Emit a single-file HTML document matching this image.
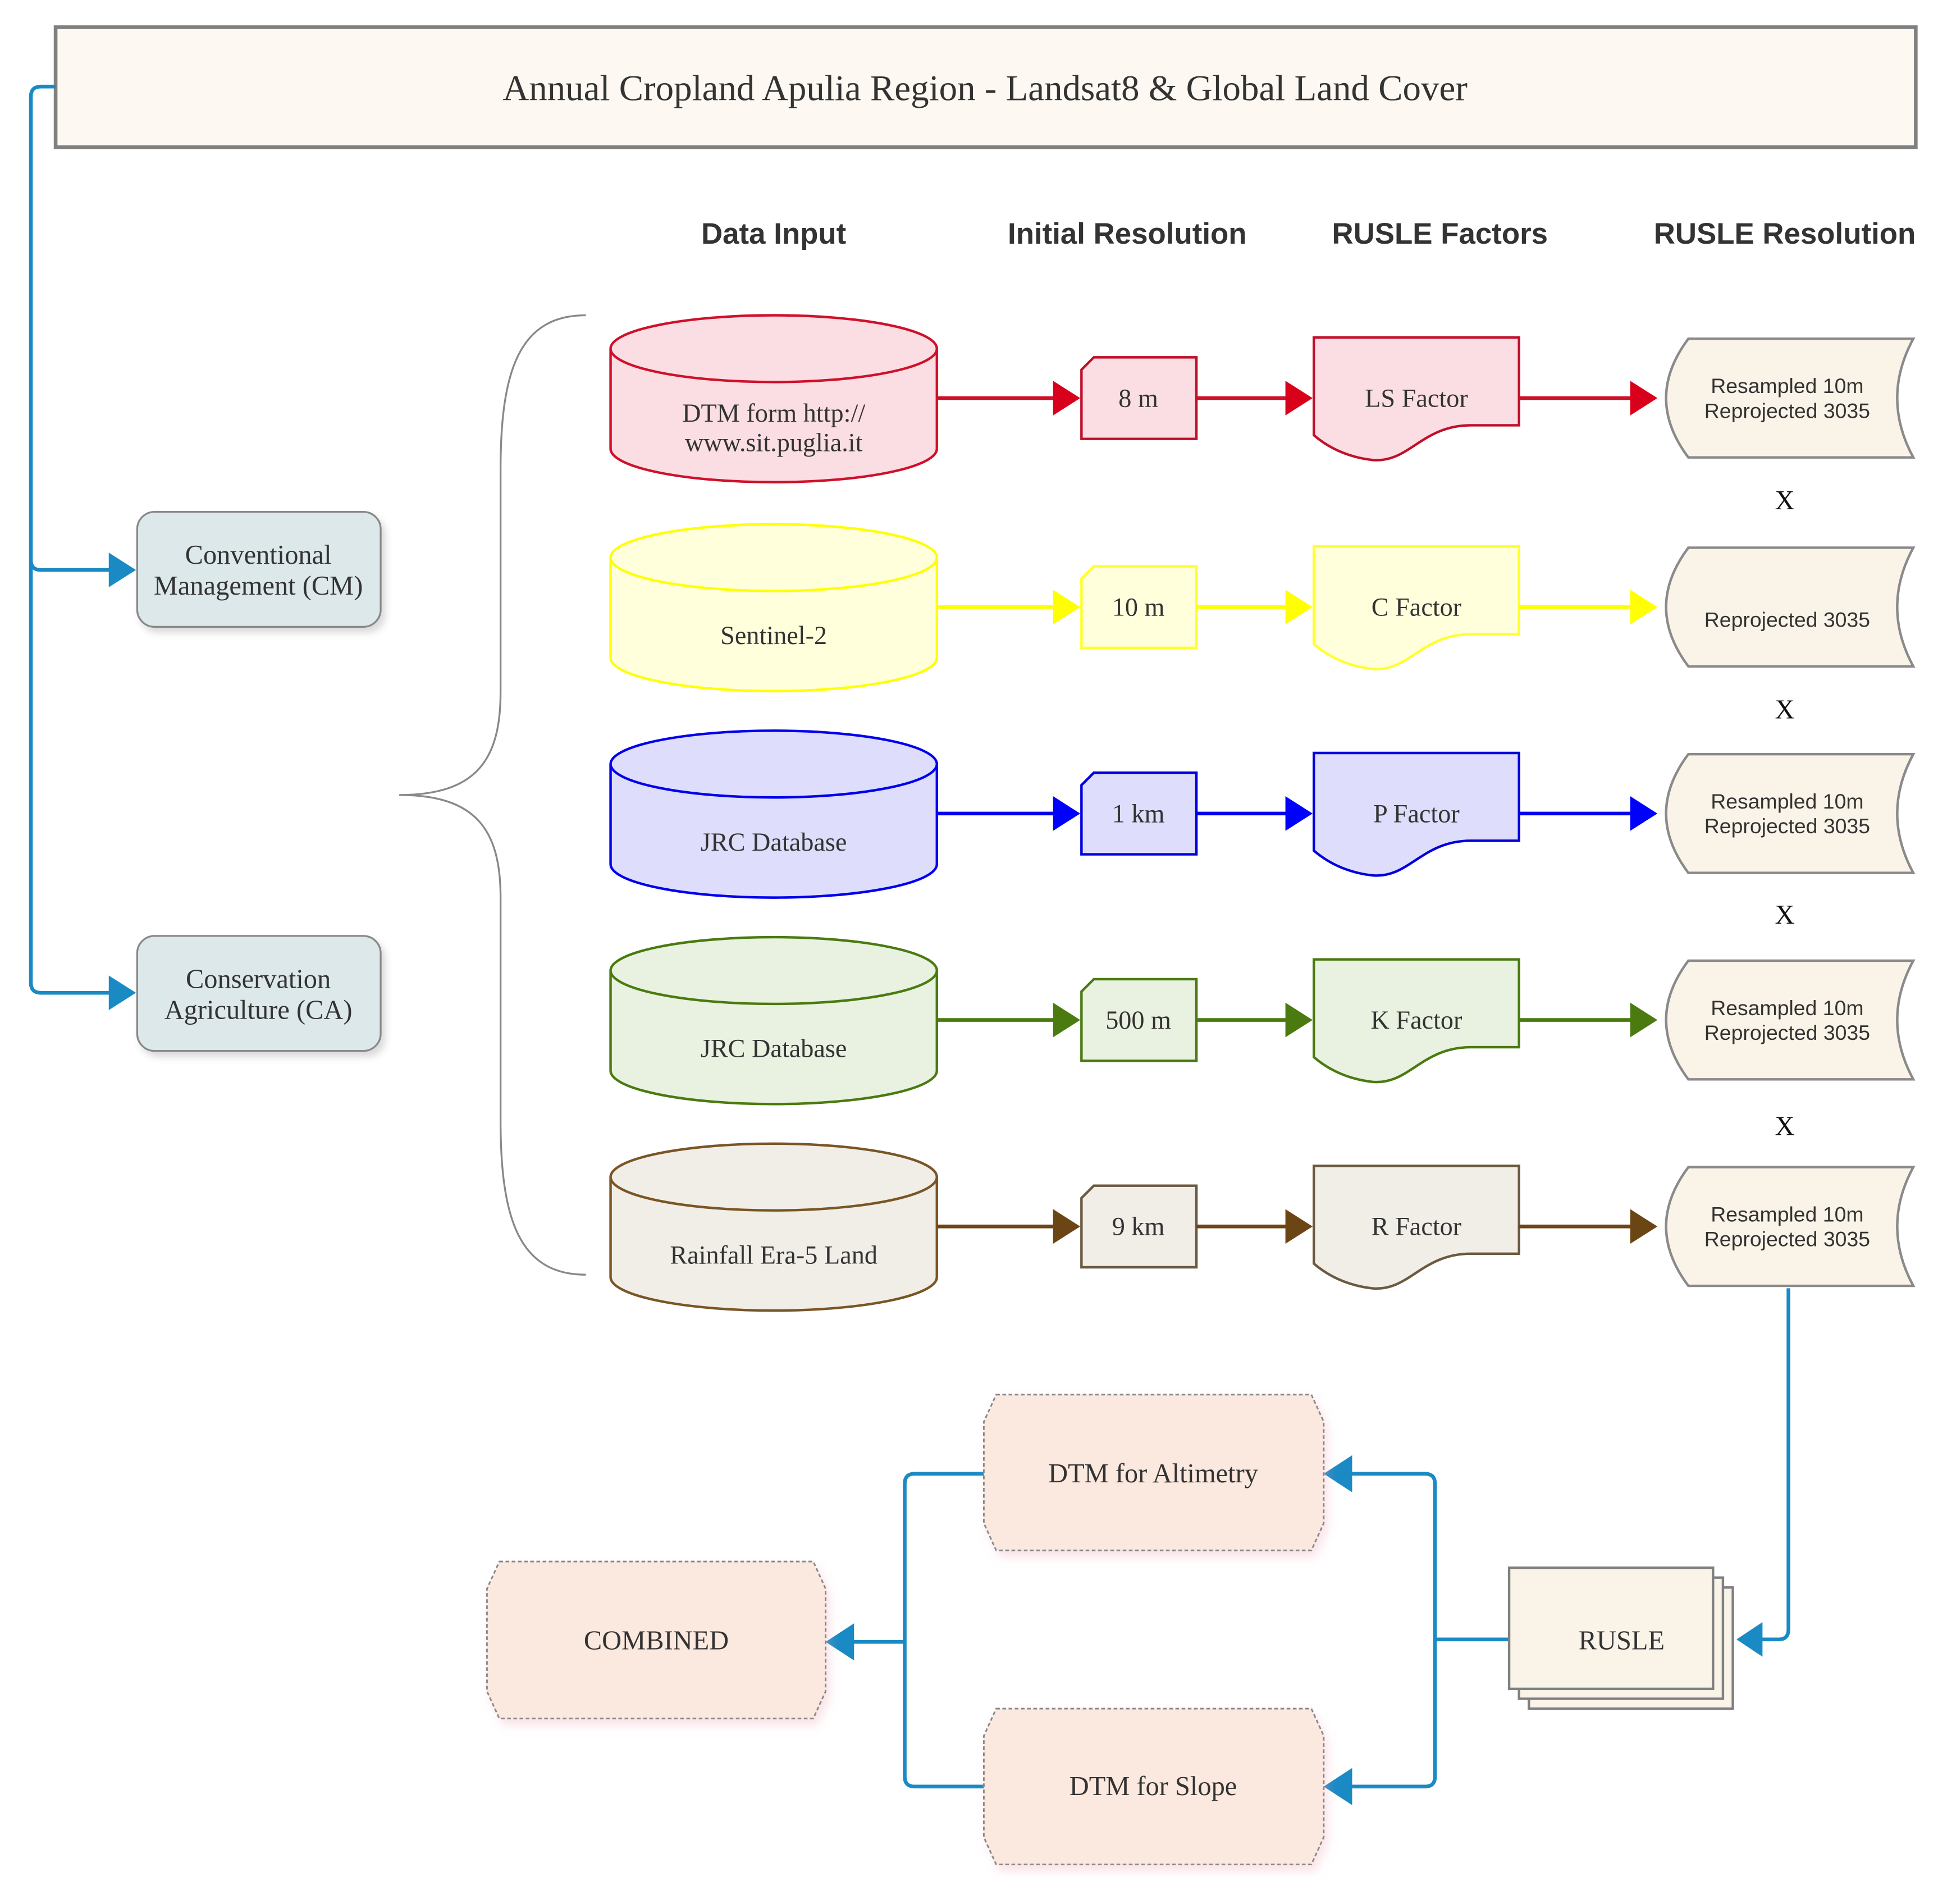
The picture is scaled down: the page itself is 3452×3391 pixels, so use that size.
<!DOCTYPE html>
<html><head><meta charset="utf-8"><style>
html,body{margin:0;padding:0;background:#fff;}
svg{display:block;}
.serif{font-family:"Liberation Serif",serif;fill:#333;}
.sans{font-family:"Liberation Sans",sans-serif;fill:#333;}
</style></head><body>
<svg width="3452" height="3391" viewBox="0 0 1568 1540" preserveAspectRatio="none" xmlns="http://www.w3.org/2000/svg">
<defs>
<filter id="sh" x="-10%" y="-10%" width="130%" height="130%"><feDropShadow dx="3" dy="4" stdDeviation="3" flood-color="#000" flood-opacity="0.15"/></filter>
<filter id="shp" x="-10%" y="-10%" width="130%" height="130%"><feDropShadow dx="3" dy="5" stdDeviation="4" flood-color="#f0a0b0" flood-opacity="0.3"/></filter>
</defs>
<rect width="1568" height="1540" fill="#fff"/>

<rect x="45" y="22" width="1505" height="97" fill="#fdf9f2" stroke="#808080" stroke-width="3"/>
<text x="797" y="81" text-anchor="middle" class="serif" font-size="29.5">Annual Cropland Apulia Region - Landsat8 &amp; Global Land Cover</text>

<g class="sans" font-size="24" font-weight="bold" text-anchor="middle">
<text x="626" y="197">Data Input</text>
<text x="912" y="197">Initial Resolution</text>
<text x="1165" y="197">RUSLE Factors</text>
<text x="1444" y="197">RUSLE Resolution</text>
</g>

<path d="M45,70 H33 Q25,70 25,78 V795 Q25,803 33,803 H90 M25,453 Q25,461 33,461 H90" fill="none" stroke="#1a8ac4" stroke-width="3"/>
<polygon points="88,447 110,461 88,475" fill="#1a8ac4"/>
<polygon points="88,789 110,803 88,817" fill="#1a8ac4"/>
<rect x="111" y="414" width="197" height="93" rx="14" fill="#dde8ea" stroke="#888" stroke-width="1.5" filter="url(#sh)"/>
<text x="209" y="456" text-anchor="middle" class="serif" font-size="22">Conventional</text>
<text x="209" y="481" text-anchor="middle" class="serif" font-size="22">Management (CM)</text>
<rect x="111" y="757" width="197" height="93" rx="14" fill="#dde8ea" stroke="#888" stroke-width="1.5" filter="url(#sh)"/>
<text x="209" y="799" text-anchor="middle" class="serif" font-size="22">Conservation</text>
<text x="209" y="824" text-anchor="middle" class="serif" font-size="22">Agriculture (CA)</text>

<path d="M474,255 C420,255 405,300 405,380 V560 C405,615 385,643 323,643 C385,643 405,671 405,726 V906 C405,986 420,1031 474,1031" fill="none" stroke="#888" stroke-width="1.5"/>

<g>
<path d="M494,282 V363 A132,27 0 0 0 758,363 V282" fill="#fadee4" stroke="#d0102a" stroke-width="2"/>
<ellipse cx="626" cy="282" rx="132" ry="27" fill="#fadee4" stroke="#d0102a" stroke-width="2"/>
<text x="626" y="341" text-anchor="middle" class="serif" font-size="21">DTM form http://</text>
<text x="626" y="365" text-anchor="middle" class="serif" font-size="21">www.sit.puglia.it</text>
<line x1="758" y1="322" x2="855" y2="322" stroke="#cc1028" stroke-width="3"/>
<polygon points="852,308 874,322 852,336" fill="#d9001b"/>
<path d="M885,289 H968 V355 H875 V299 Z" fill="#fadee4" stroke="#c0102a" stroke-width="2"/>
<text x="921" y="329" text-anchor="middle" class="serif" font-size="21">8 m</text>
<line x1="968" y1="322" x2="1043" y2="322" stroke="#cc1028" stroke-width="3"/>
<polygon points="1040,308 1062,322 1040,336" fill="#d9001b"/>
<path d="M1063,273 H1229 V344 H1190 C1150,344 1140,375 1110,372 C1085,369 1070,358 1063,352 Z" fill="#fadee4" stroke="#c0102a" stroke-width="2"/>
<text x="1146" y="329" text-anchor="middle" class="serif" font-size="21">LS Factor</text>
<line x1="1229" y1="322" x2="1322" y2="322" stroke="#cc1028" stroke-width="3"/>
<polygon points="1319,308 1341,322 1319,336" fill="#d9001b"/>
<path d="M1366,274 H1548 Q1522,322 1548,370 H1366 Q1330,322 1366,274 Z" fill="#faf3e8" stroke="#8a8a8a" stroke-width="2"/>
<text x="1446" y="318" text-anchor="middle" class="sans" font-size="17">Resampled 10m</text>
<text x="1446" y="338" text-anchor="middle" class="sans" font-size="17">Reprojected 3035</text>
</g>

<g>
<path d="M494,451 V532 A132,27 0 0 0 758,532 V451" fill="#ffffdc" stroke="#ffff00" stroke-width="2"/>
<ellipse cx="626" cy="451" rx="132" ry="27" fill="#ffffdc" stroke="#ffff00" stroke-width="2"/>
<text x="626" y="521" text-anchor="middle" class="serif" font-size="21">Sentinel-2</text>
<line x1="758" y1="491" x2="855" y2="491" stroke="#ffff00" stroke-width="3"/>
<polygon points="852,477 874,491 852,505" fill="#ffff00"/>
<path d="M885,458 H968 V524 H875 V468 Z" fill="#ffffdc" stroke="#ffff30" stroke-width="2"/>
<text x="921" y="498" text-anchor="middle" class="serif" font-size="21">10 m</text>
<line x1="968" y1="491" x2="1043" y2="491" stroke="#ffff00" stroke-width="3"/>
<polygon points="1040,477 1062,491 1040,505" fill="#ffff00"/>
<path d="M1063,442 H1229 V513 H1190 C1150,513 1140,544 1110,541 C1085,538 1070,527 1063,521 Z" fill="#ffffdc" stroke="#ffff30" stroke-width="2"/>
<text x="1146" y="498" text-anchor="middle" class="serif" font-size="21">C Factor</text>
<line x1="1229" y1="491" x2="1322" y2="491" stroke="#ffff00" stroke-width="3"/>
<polygon points="1319,477 1341,491 1319,505" fill="#ffff00"/>
<path d="M1366,443 H1548 Q1522,491 1548,539 H1366 Q1330,491 1366,443 Z" fill="#faf3e8" stroke="#8a8a8a" stroke-width="2"/>
<text x="1446" y="507" text-anchor="middle" class="sans" font-size="17">Reprojected 3035</text>
</g>

<g>
<path d="M494,618 V699 A132,27 0 0 0 758,699 V618" fill="#dedefc" stroke="#0000ee" stroke-width="2"/>
<ellipse cx="626" cy="618" rx="132" ry="27" fill="#dedefc" stroke="#0000ee" stroke-width="2"/>
<text x="626" y="688" text-anchor="middle" class="serif" font-size="21">JRC Database</text>
<line x1="758" y1="658" x2="855" y2="658" stroke="#0000ee" stroke-width="3"/>
<polygon points="852,644 874,658 852,672" fill="#0000ff"/>
<path d="M885,625 H968 V691 H875 V635 Z" fill="#dedefc" stroke="#0000dd" stroke-width="2"/>
<text x="921" y="665" text-anchor="middle" class="serif" font-size="21">1 km</text>
<line x1="968" y1="658" x2="1043" y2="658" stroke="#0000ee" stroke-width="3"/>
<polygon points="1040,644 1062,658 1040,672" fill="#0000ff"/>
<path d="M1063,609 H1229 V680 H1190 C1150,680 1140,711 1110,708 C1085,705 1070,694 1063,688 Z" fill="#dedefc" stroke="#0000dd" stroke-width="2"/>
<text x="1146" y="665" text-anchor="middle" class="serif" font-size="21">P Factor</text>
<line x1="1229" y1="658" x2="1322" y2="658" stroke="#0000ee" stroke-width="3"/>
<polygon points="1319,644 1341,658 1319,672" fill="#0000ff"/>
<path d="M1366,610 H1548 Q1522,658 1548,706 H1366 Q1330,658 1366,610 Z" fill="#faf3e8" stroke="#8a8a8a" stroke-width="2"/>
<text x="1446" y="654" text-anchor="middle" class="sans" font-size="17">Resampled 10m</text>
<text x="1446" y="674" text-anchor="middle" class="sans" font-size="17">Reprojected 3035</text>
</g>

<g>
<path d="M494,785 V866 A132,27 0 0 0 758,866 V785" fill="#e9f1e0" stroke="#4a7a10" stroke-width="2"/>
<ellipse cx="626" cy="785" rx="132" ry="27" fill="#e9f1e0" stroke="#4a7a10" stroke-width="2"/>
<text x="626" y="855" text-anchor="middle" class="serif" font-size="21">JRC Database</text>
<line x1="758" y1="825" x2="855" y2="825" stroke="#4a7a10" stroke-width="3"/>
<polygon points="852,811 874,825 852,839" fill="#4a7a10"/>
<path d="M885,792 H968 V858 H875 V802 Z" fill="#e9f1e0" stroke="#4a7a10" stroke-width="2"/>
<text x="921" y="832" text-anchor="middle" class="serif" font-size="21">500 m</text>
<line x1="968" y1="825" x2="1043" y2="825" stroke="#4a7a10" stroke-width="3"/>
<polygon points="1040,811 1062,825 1040,839" fill="#4a7a10"/>
<path d="M1063,776 H1229 V847 H1190 C1150,847 1140,878 1110,875 C1085,872 1070,861 1063,855 Z" fill="#e9f1e0" stroke="#4a7a10" stroke-width="2"/>
<text x="1146" y="832" text-anchor="middle" class="serif" font-size="21">K Factor</text>
<line x1="1229" y1="825" x2="1322" y2="825" stroke="#4a7a10" stroke-width="3"/>
<polygon points="1319,811 1341,825 1319,839" fill="#4a7a10"/>
<path d="M1366,777 H1548 Q1522,825 1548,873 H1366 Q1330,825 1366,777 Z" fill="#faf3e8" stroke="#8a8a8a" stroke-width="2"/>
<text x="1446" y="821" text-anchor="middle" class="sans" font-size="17">Resampled 10m</text>
<text x="1446" y="841" text-anchor="middle" class="sans" font-size="17">Reprojected 3035</text>
</g>

<g>
<path d="M494,952 V1033 A132,27 0 0 0 758,1033 V952" fill="#f1eee8" stroke="#7a5525" stroke-width="2"/>
<ellipse cx="626" cy="952" rx="132" ry="27" fill="#f1eee8" stroke="#7a5525" stroke-width="2"/>
<text x="626" y="1022" text-anchor="middle" class="serif" font-size="21">Rainfall Era-5 Land</text>
<line x1="758" y1="992" x2="855" y2="992" stroke="#6b4614" stroke-width="3"/>
<polygon points="852,978 874,992 852,1006" fill="#6b4614"/>
<path d="M885,959 H968 V1025 H875 V969 Z" fill="#f1eee8" stroke="#6b5a40" stroke-width="2"/>
<text x="921" y="999" text-anchor="middle" class="serif" font-size="21">9 km</text>
<line x1="968" y1="992" x2="1043" y2="992" stroke="#6b4614" stroke-width="3"/>
<polygon points="1040,978 1062,992 1040,1006" fill="#6b4614"/>
<path d="M1063,943 H1229 V1014 H1190 C1150,1014 1140,1045 1110,1042 C1085,1039 1070,1028 1063,1022 Z" fill="#f1eee8" stroke="#6b5a40" stroke-width="2"/>
<text x="1146" y="999" text-anchor="middle" class="serif" font-size="21">R Factor</text>
<line x1="1229" y1="992" x2="1322" y2="992" stroke="#6b4614" stroke-width="3"/>
<polygon points="1319,978 1341,992 1319,1006" fill="#6b4614"/>
<path d="M1366,944 H1548 Q1522,992 1548,1040 H1366 Q1330,992 1366,944 Z" fill="#faf3e8" stroke="#8a8a8a" stroke-width="2"/>
<text x="1446" y="988" text-anchor="middle" class="sans" font-size="17">Resampled 10m</text>
<text x="1446" y="1008" text-anchor="middle" class="sans" font-size="17">Reprojected 3035</text>
</g>

<g class="serif" font-size="22" text-anchor="middle" style="fill:#111">
<text x="1444" y="412">X</text>
<text x="1444" y="581">X</text>
<text x="1444" y="747">X</text>
<text x="1444" y="918">X</text>
</g>

<g fill="none" stroke="#1a8ac4" stroke-width="3">
<path d="M1447,1042 V1318 Q1447,1326 1439,1326 H1420"/>
<path d="M1221,1326 H1161 M1090,1192 H1153 Q1161,1192 1161,1200 V1437 Q1161,1445 1153,1445 H1090"/>
<path d="M796,1192 H740 Q732,1192 732,1200 V1437 Q732,1445 740,1445 H796 M732,1328 H688"/>
</g>
<g fill="#1a8ac4">
<polygon points="1426,1312 1405,1326 1426,1340"/>
<polygon points="1094,1177 1071,1192 1094,1207"/>
<polygon points="1094,1430 1071,1445 1094,1460"/>
<polygon points="691,1313 668,1328 691,1343"/>
</g>

<rect x="1237" y="1284" width="165" height="98" fill="#faf3e8" stroke="#808080" stroke-width="2"/>
<rect x="1229" y="1276" width="165" height="98" fill="#faf3e8" stroke="#808080" stroke-width="2"/>
<rect x="1221" y="1268" width="165" height="98" fill="#faf3e8" stroke="#808080" stroke-width="2"/>
<text x="1312" y="1334" text-anchor="middle" class="serif" font-size="22">RUSLE</text>

<path d="M806,1128 H1061 L1071,1150 V1232 L1061,1254 H806 L796,1232 V1150 Z" fill="#fbe8de" stroke="#888" stroke-width="1.3" stroke-dasharray="3,2" filter="url(#shp)"/>
<text x="933" y="1199" text-anchor="middle" class="serif" font-size="22">DTM for Altimetry</text>
<path d="M806,1382 H1061 L1071,1404 V1486 L1061,1508 H806 L796,1486 V1404 Z" fill="#fbe8de" stroke="#888" stroke-width="1.3" stroke-dasharray="3,2" filter="url(#shp)"/>
<text x="933" y="1452" text-anchor="middle" class="serif" font-size="22">DTM for Slope</text>
<path d="M404,1263 H658 L668,1285 V1368 L658,1390 H404 L394,1368 V1285 Z" fill="#fbe8de" stroke="#888" stroke-width="1.3" stroke-dasharray="3,2" filter="url(#shp)"/>
<text x="531" y="1334" text-anchor="middle" class="serif" font-size="22">COMBINED</text>
</svg>
</body></html>
